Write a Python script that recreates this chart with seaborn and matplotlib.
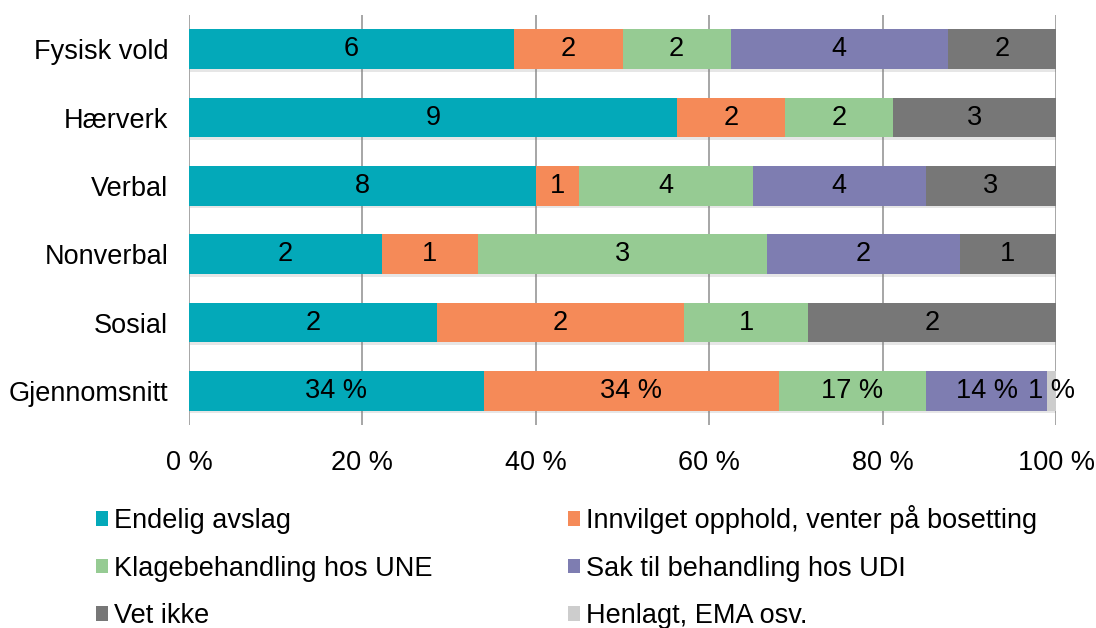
import matplotlib
matplotlib.use("Agg")
import matplotlib.pyplot as plt
import matplotlib.patheffects as pe
from matplotlib.patches import Patch
import numpy as np
import pandas as pd
import seaborn as sns

categories = ["Fysisk vold", "Hærverk", "Verbal", "Nonverbal", "Sosial", "Gjennomsnitt"]
series = ["Endelig avslag", "Innvilget opphold, venter på bosetting",
          "Klagebehandling hos UNE", "Sak til behandling hos UDI",
          "Vet ikke", "Henlagt, EMA osv."]
endelig_avslag = [6, 9, 8, 2, 2, 34]
innvilget = [2, 2, 1, 1, 2, 34]
klagebehandling = [2, 2, 4, 3, 1, 17]
sak_udi = [4, 0, 4, 2, 0, 14]
vet_ikke = [2, 3, 3, 1, 2, 0]
henlagt = [0, 0, 0, 0, 0, 1]
percent_rows = ["Gjennomsnitt"]
xticks = [0, 20, 40, 60, 80, 100]
xtick_labels = ["0 %", "20 %", "40 %", "60 %", "80 %", "100 %"]

colors = ["#03A9B9", "#F58A58", "#96CB93", "#7E7DB1", "#777777", "#CDCDCD"]

sns.set_theme(style="white")
plt.rcParams["font.family"] = ["Liberation Sans", "DejaVu Sans"]
plt.rcParams["text.color"] = "black"
plt.rcParams["xtick.color"] = "black"
plt.rcParams["ytick.color"] = "black"
plt.rcParams["xtick.labelcolor"] = "black"
plt.rcParams["ytick.labelcolor"] = "black"
FS = 19.5

vals = np.array([endelig_avslag, innvilget, klagebehandling, sak_udi, vet_ikke, henlagt], dtype=float)
pct = vals / vals.sum(axis=0) * 100
cum = np.cumsum(pct, axis=0)

fig = plt.figure(figsize=(10.96, 6.28), dpi=100)
ax = fig.add_axes([189 / 1096, 1 - 425 / 628, (1056 - 189) / 1096, 410 / 628])

# vertical gridlines
for xt in xticks:
    ax.axvline(xt, color="#A6A6A6", lw=1.4, zorder=0)

for i in range(len(series) - 1, -1, -1):
    df = pd.DataFrame({"cat": categories, "x": cum[i]})
    sns.barplot(data=df, x="x", y="cat", orient="h", color=colors[i],
                saturation=1, width=0.58, ax=ax, zorder=2, edgecolor="none")

# soft shadow on full bars
n = len(categories)
for p in ax.patches[:n]:
    p.set_path_effects([pe.SimplePatchShadow(offset=(1, -2), alpha=0.18, shadow_rgbFace="#777777"), pe.Normal()])

for j, cat in enumerate(categories):
    for i in range(len(series)):
        if vals[i, j] <= 0:
            continue
        center = cum[i, j] - pct[i, j] / 2
        if cat in percent_rows:
            label = f"{int(vals[i, j])} %"
        else:
            label = f"{int(vals[i, j])}"
        ax.text(center, j, label, ha="center", va="center", fontsize=FS, color="black", zorder=5)

ax.set_xlim(0, 100)
ax.set_ylim(n - 0.5, -0.5)
ax.set_xticks(xticks)
ax.set_xticklabels(xtick_labels, fontsize=FS, color="black")
ax.set_yticks(range(n))
ax.set_yticklabels(categories, fontsize=FS, color="black")
ax.set_xlabel("")
ax.set_ylabel("")
ax.tick_params(axis="x", length=0, pad=18)
ax.tick_params(axis="y", length=0, pad=15)
for s in ax.spines.values():
    s.set_visible(False)
ax.grid(False)

handles = [Patch(facecolor=c, edgecolor="none") for c in colors]
# order for ncol=2 (column-major fill)
order = [0, 2, 4, 1, 3, 5]
leg = fig.legend([handles[k] for k in order], [series[k] for k in order], ncol=2,
                 loc="upper left", bbox_to_anchor=(96 / 1096, 1 - 505 / 628),
                 frameon=False, fontsize=FS, handlelength=0.45, handleheight=0.45,
                 handletextpad=0.22, columnspacing=5.0, labelspacing=0.80,
                 borderpad=0, borderaxespad=0)
for t in leg.get_texts():
    t.set_color("black")

fig.savefig("out.png", dpi=100)
